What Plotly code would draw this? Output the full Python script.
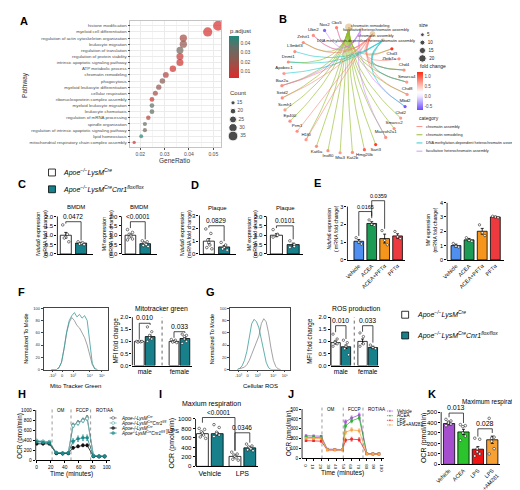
import math
import plotly.graph_objects as go

W, H = 520, 490
FONT = "Liberation Sans"
TEAL = "#17808a"
GTXT = "#4d4d4d"

# ---------------- A: GO enrichment ----------------
pathways = ["histone modification", "myeloid cell differentiation",
            "regulation of actin cytoskeleton organization", "leukocyte migration",
            "regulation of translation", "regulation of protein stability",
            "intrinsic apoptotic signaling pathway", "ATP metabolic process",
            "chromatin remodeling", "phagocytosis", "myeloid leukocyte differentiation",
            "cellular respiration", "ribonucleoprotein complex assembly",
            "myeloid leukocyte migration", "leukocyte chemotaxis",
            "regulation of mRNA processing", "spindle organization",
            "regulation of intrinsic apoptotic signaling pathway", "lipid homeostasis",
            "mitochondrial respiratory chain complex assembly"]
gene_ratio = [0.0520, 0.0477, 0.0377, 0.0377, 0.0363, 0.0363, 0.0363, 0.0334, 0.0305, 0.0291,
              0.0276, 0.0262, 0.0248, 0.0248, 0.0248, 0.0233, 0.0219, 0.0219, 0.0204, 0.0175]
p_adjust = [0.004, 0.005, 0.016, 0.020, 0.030, 0.008, 0.007, 0.006, 0.013, 0.024,
            0.021, 0.016, 0.008, 0.036, 0.035, 0.012, 0.034, 0.030, 0.046, 0.004]
gene_count = [36, 33, 26, 26, 25, 25, 25, 23, 21, 20, 19, 18, 17, 17, 17, 16, 15, 15, 14, 12]
count_legend = [15, 20, 25, 30, 35]

# ---------------- B: gene-concept network ----------------
go_terms = ["chromatin remodeling", "facultative heterochromatin assembly",
            "chromatin assembly", "DNA methylation-dependent heterochromatin assembly"]
term_colors = ["#7CAE00", "#C77CFF", "#F8766D", "#00BFC4"]
legend_order = [2, 0, 3, 1]
genes = ["Chd3", "Zbtb7a", "Chd4", "Smarca4", "Chd8", "Mbd2", "Chd2", "Smarcc2", "Macroh2a1",
         "Sart3", "Hmg20b", "Kat2b", "Mta3", "Ino80", "Kat6a", "H1f0", "Prm1", "Ep400", "Scmh1",
         "Setd2", "Baz2a", "Apobec1", "Dnmt1", "L3mbtl3", "Znhit1", "Ubn2", "Nox2", "Cbx5"]
fold_change = [1.15, 0.75, 0.75, 0.7, 0.7, -0.65, 0.7, 0.75, 0.75, 1.1, 0.95, 0.75, 0.7, 0.75,
               0.75, 0.7, 0.75, 0.75, 0.7, 0.75, 0.75, 0.7, 0.75, 0.75, 0.75, 0.75, -0.6, 0.8]
gene_terms = [[0, 2], [2], [0, 2, 3], [0, 2, 3], [0, 2], [1, 3], [0], [0], [0, 1], [0], [0], [0],
              [0], [0], [0], [0, 2], [2], [0], [0], [0, 2], [0, 1, 2], [3], [0, 3], [3], [0, 2],
              [1, 2], [1], [1, 2]]
size_legend = [5, 10, 15, 20]

# ---------------- C / D ----------------
grp_labels = ["<i>Apoe<sup>−/−</sup>LysM<sup>Cre</sup></i>",
              "<i>Apoe<sup>−/−</sup>LysM<sup>Cre</sup>Cnr1<sup>flox/flox</sup></i>"]
grp_fill = ["white", TEAL]
c1_mean, c1_sem = [1.0, 0.58], [0.15, 0.04]
c1_pts = [[1.55, 1.05, 0.9, 0.85, 0.65], [0.65, 0.6, 0.56, 0.53, 0.5]]
c2_mean, c2_sem = [1.0, 0.55], [0.05, 0.03]
c2_pts = [[1.3, 1.15, 1.05, 1.0, 0.95, 0.9, 0.8, 0.75], [0.7, 0.65, 0.6, 0.55, 0.5, 0.45, 0.4]]
d1_mean, d1_sem = [1.0, 0.55], [0.2, 0.1]
d1_pts = [[1.95, 1.6, 1.1, 0.9, 0.7, 0.5, 0.4], [0.9, 0.7, 0.5, 0.4, 0.3]]
d2_mean, d2_sem = [1.0, 0.5], [0.08, 0.08]
d2_pts = [[1.3, 1.05, 1.0, 0.9], [0.7, 0.5, 0.4, 0.35]]

# ---------------- E ----------------
e_groups = ["Vehicle", "ACEA", "ACEA+PFTα", "PFTα"]
e_colors = ["#4f8ff0", "#1c9b55", "#f5951b", "#ec3a3f"]
e1_mean, e1_sem = [1.05, 2.05, 1.2, 1.35], [0.1, 0.1, 0.25, 0.12]
e1_pts = [[1.25, 1.0, 0.9], [2.25, 2.0, 1.95], [1.65, 1.1, 0.85], [1.6, 1.3, 1.2]]
e2_mean, e2_sem = [1.0, 1.4, 2.0, 3.0], [0.1, 0.1, 0.2, 0.05]
e2_pts = [[1.15, 0.95, 0.9], [1.55, 1.35, 1.3], [2.45, 1.9, 1.7], [3.05, 3.0, 2.95]]

# ---------------- F / G ----------------
flow_ch = [12, 16, 20, 24, 28, 32, 36, 40, 44, 48, 52, 56, 60, 64, 68, 72, 76, 80, 84]
f_cnr1 = [0, 0, 0, 3, 12, 35, 62, 80, 88, 93, 86, 90, 84, 88, 80, 45, 10, 1, 0]
f_ctrl = [0, 0, 0, 3, 12, 34, 60, 77, 85, 80, 72, 68, 60, 52, 40, 25, 8, 1, 0]
g_cnr1 = [0, 2, 6, 15, 30, 55, 75, 82, 78, 68, 50, 30, 12, 3, 0, 0, 0, 0, 0]
g_ctrl = [0, 1, 2, 4, 8, 15, 25, 35, 42, 55, 75, 83, 78, 60, 35, 15, 5, 1, 0]
flow_ticks = [14, 29, 46, 72, 91]
flow_ticktext = ["-10³", "0", "10³", "10⁴", "10⁵"]
sex = ["male", "female"]
f_mean, f_sem = [1.0, 1.2, 1.0, 1.12], [0.02, 0.06, 0.03, 0.05]
f_pts = [[1.0, 0.98, 1.02, 0.97, 1.0], [1.6, 1.4, 1.25, 1.15, 1.1, 1.0],
         [1.08, 1.05, 1.0, 0.97, 0.95], [1.3, 1.25, 1.2, 1.1, 1.0, 0.92]]
g_mean, g_sem = [0.95, 0.78, 1.0, 0.75], [0.06, 0.07, 0.1, 0.05]
g_pts = [[1.3, 1.1, 1.0, 0.95, 0.9, 0.8], [1.05, 0.95, 0.8, 0.7, 0.45],
         [1.35, 1.2, 0.9, 0.8], [0.85, 0.75, 0.7]]

# ---------------- H / I ----------------
h_time = [0, 9, 18, 28, 37, 45, 52, 59, 66, 72, 81, 89, 97]
h_series = [
    [380, 370, 365, 150, 140, 145, 700, 750, 800, 850, 95, 85, 85],
    [395, 380, 370, 155, 148, 150, 690, 740, 790, 830, 100, 90, 88],
    [330, 330, 330, 140, 135, 140, 250, 280, 300, 300, 80, 75, 75],
    [370, 360, 350, 150, 140, 145, 380, 430, 450, 450, 85, 80, 80],
]
h_sem = [
    [15, 15, 15, 10, 10, 10, 40, 40, 40, 40, 10, 10, 10],
    [15, 15, 15, 10, 10, 10, 40, 40, 40, 40, 10, 10, 10],
    [15, 15, 15, 10, 10, 10, 25, 25, 25, 25, 10, 10, 10],
    [15, 15, 15, 10, 10, 10, 50, 55, 55, 55, 10, 10, 10],
]
h_names = ["<i>Apoe-/-LysM<sup>Cre</sup></i>", "<i>Apoe-/-LysM<sup>Cre</sup>Cnr1<sup>fl/fl</sup></i>",
           "<i>Apoe-/-LysM<sup>Cre</sup></i>", "<i>Apoe<sup>-/-</sup>LysM<sup>Cre</sup>Cnr1<sup>fl/fl</sup></i>"]
h_style = [("#555555", "white", "#333333"), ("#6fbcbc", "white", "#3a9c9c"),
           ("#111111", "#111111", "#111111"), ("#1b8c8c", "#1b8c8c", "#1b8c8c")]
inject_labels = ["OM", "FCCP", "ROT/AA"]
h_inject = [22, 49, 77]
i_groups = ["Vehicle", "LPS"]
i_mean, i_sem = [690, 690, 210, 390], [30, 25, 25, 20]
i_pts = [[800, 780, 730, 700, 660, 620, 590], [880, 820, 720, 690, 660, 630],
         [300, 260, 240, 210, 180, 150, 130], [470, 430, 410, 390, 370, 350, 330]]

# ---------------- J / K ----------------
j_time = [0, 10, 20, 28, 38, 48, 52, 60, 70, 80, 88, 96]
j_names = ["Vehicle", "ACEA", "LPS", "LPS+AM281"]
j_colors = ["#a855d8", "#29b62f", "#ee2a2a", "#f7a44a"]
j_series = [
    [230, 228, 225, 95, 92, 90, 370, 410, 440, 50, 48, 48],
    [215, 212, 210, 90, 88, 88, 330, 380, 410, 48, 46, 46],
    [180, 180, 175, 85, 85, 85, 185, 195, 190, 45, 44, 44],
    [205, 202, 200, 88, 88, 88, 265, 290, 280, 46, 45, 45],
]
j_sem = [8, 8, 8, 5, 5, 5, 20, 20, 20, 4, 4, 4]
j_inject = [21, 49, 75]
k_labels = ["Vehicle", "ACEA", "LPS", "LPS<br>+AM281"]
k_colors = ["#a64fce", "#2cc42c", "#ee1414", "#f7a033"]
k_mean, k_sem = [390, 310, 145, 235], [12, 25, 25, 35]
k_pts = [[430, 415, 405, 395, 385, 370], [380, 370, 360, 300, 270, 230],
         [250, 240, 150, 120, 100, 80], [440, 260, 250, 220, 150, 100]]

# ================= helpers =================
fig = go.Figure()
lay = {}
shapes = []
anns = []
nax = [0]


def axes(xpx, xr, ypx, yr, xkw=None, ykw=None):
    nax[0] += 1
    s = "" if nax[0] == 1 else str(nax[0])
    base = dict(showgrid=False, zeroline=False, showticklabels=False, ticks="", fixedrange=True,
                tickfont=dict(size=6, family=FONT, color="black"))
    xa = dict(base, domain=[xpx[0] / W, xpx[1] / W], range=list(xr), anchor="y" + s)
    ya = dict(base, domain=[1 - ypx[0] / H, 1 - ypx[1] / H], range=list(yr), anchor="x" + s)
    xa.update(xkw or {})
    ya.update(ykw or {})
    lay["xaxis" + s] = xa
    lay["yaxis" + s] = ya
    return "x" + s, "y" + s


def text(t, x, y, size=6, angle=0, xa="center", ya="middle", color="black"):
    anns.append(dict(text=t, x=x / W, y=1 - y / H, xref="paper", yref="paper", showarrow=False,
                     textangle=angle, xanchor=xa, yanchor=ya,
                     font=dict(size=size, color=color, family=FONT)))


def gp_axes(xl, xr, xrange, z, tp, tv, ytop, yticks, yfs=6, ytext=None, xkw=None):
    s = (z - tp) / tv
    xa = dict(showline=True, linecolor="black", linewidth=0.8)
    xa.update(xkw or {})
    ya = dict(tickvals=yticks, showticklabels=True, ticks="outside", ticklen=2, tickwidth=0.8,
              tickcolor="black", tickfont=dict(size=yfs, family=FONT, color="black"))
    if ytext:
        ya["ticktext"] = ytext
    xn, yn = axes((xl, xr), xrange, (z, z - ytop * s), (0, ytop), xa, ya)
    shapes.append(dict(type="line", xref=xn + " domain", x0=0, x1=0, yref=yn, y0=0, y1=yticks[-1],
                       line=dict(color="black", width=0.8)))
    return xn, yn


def bar_axes(c0, sc, xl, xr, z, tp, tv, ytop, yticks, **kw):
    return gp_axes(xl, xr, ((xl - c0) / sc, (xr - c0) / sc), z, tp, tv, ytop, yticks, **kw)


def bars(ax, pos, means, sems, colors, pts, width=0.72, dsize=2.6):
    xn, yn = ax
    fig.add_trace(go.Bar(x=pos, y=means, width=width, xaxis=xn, yaxis=yn,
                         marker=dict(color=colors, line=dict(color="black", width=0.8)),
                         error_y=dict(type="data", array=sems, color="black", thickness=0.8, width=1.5)))
    xs, ys = [], []
    for p, vals in zip(pos, pts):
        n = len(vals)
        for i, v in enumerate(vals):
            xs.append(p - (i - (n - 1) / 2) * width * 0.55 / max(n - 1, 1) * (1 if i % 2 else -1))
            ys.append(v)
    fig.add_trace(go.Scatter(x=xs, y=ys, mode="markers", xaxis=xn, yaxis=yn, cliponaxis=False,
                             marker=dict(size=dsize, color="white", line=dict(color="black", width=0.5))))


def bracket(ax, x0, x1, y, b0, b1, label, fs=6.5):
    xn, yn = ax
    fig.add_trace(go.Scatter(x=[x0, x0, x1, x1], y=[b0, y, y, b1], mode="lines", xaxis=xn, yaxis=yn,
                             line=dict(color="black", width=0.7), hoverinfo="skip"))
    anns.append(dict(text=label, x=(x0 + x1) / 2, y=y, xref=xn, yref=yn, yanchor="bottom",
                     showarrow=False, font=dict(size=fs, family=FONT, color="black")))


def legend_box(x, y, fill, label, size=7):
    shapes.append(dict(type="rect", xref="paper", yref="paper", x0=x / W, x1=(x + 7) / W,
                       y0=1 - (y + 3.5) / H, y1=1 - (y - 3.5) / H,
                       line=dict(color="black", width=0.8), fillcolor=fill))
    text(label, x + 13, y, size, xa="left")


# ================= A =================
padj_scale = [[0, "#dc2a2a"], [0.45, "#8a5a50"], [0.75, "#5f6e68"], [1, "#1e8a7a"]]
ridx = list(range(len(pathways)))
agrid = dict(showgrid=True, gridcolor="#ebebeb", gridwidth=0.6, showline=True, mirror=True,
             linecolor="#c4c4c4", linewidth=0.6, showticklabels=True, ticks="outside", ticklen=2,
             tickwidth=0.5, tickcolor=GTXT)
ax_a = axes((118, 210), (0.01595, 0.05324), (138, 10), (len(pathways) - 0.2, -0.8),
            dict(agrid, tickvals=[0.02, 0.03, 0.04, 0.05],
                 tickfont=dict(size=5, color=GTXT, family=FONT),
                 minor=dict(tickvals=[0.015, 0.025, 0.035, 0.045], showgrid=True,
                            gridcolor="#f4f4f4", gridwidth=0.4, ticks="")),
            dict(agrid, tickvals=ridx, ticktext=pathways, tickfont=dict(size=4.4, color=GTXT, family=FONT)))
fig.add_trace(go.Scatter(
    x=gene_ratio, y=ridx, mode="markers", xaxis=ax_a[0], yaxis=ax_a[1],
    marker=dict(size=[c * 0.28 for c in gene_count], color=p_adjust, colorscale=padj_scale,
                cmin=0.0026, cmax=0.0474, line=dict(width=0),
                colorbar=dict(x=218 / W, xanchor="left", y=1 - 47 / H, yanchor="middle", len=42,
                              lenmode="pixels", thickness=10, xpad=0, ypad=0, outlinewidth=0, ticks="",
                              tickvals=[0.01, 0.02, 0.03, 0.04],
                              tickfont=dict(size=5, color=GTXT, family=FONT)))))
text("Pathway", 11, 75, 6.5, angle=-90, color="#333333")
text("GeneRatio", 163, 151, 6.5, color="#333333")
text("p.adjust", 217, 20, 6, xa="left", color="#333333")
text("Count", 217, 83, 6, xa="left", color="#333333")

# ================= B =================
ax_b = axes((265, 405), (-1.1, 1.1), (150, 10), (-1.1, 1.1))
nt = len(go_terms)
N = nt + len(genes)
ang = [math.radians(4 + i * 360 / N) for i in range(N)]
nx = [math.sin(a) for a in ang]
ny = [math.cos(a) for a in ang]
for t in range(nt):
    xs, ys = [], []
    for g, terms in enumerate(gene_terms):
        if t not in terms:
            continue
        k = nt + g
        x0, y0, x2, y2 = nx[k], ny[k], nx[t], ny[t]
        cx, cy = 0.15 * (x0 + x2) / 2, 0.25 + 0.15 * (y0 + y2) / 2
        for j in range(21):
            u = j / 20
            xs.append((1 - u) ** 2 * x0 + 2 * (1 - u) * u * cx + u * u * x2)
            ys.append((1 - u) ** 2 * y0 + 2 * (1 - u) * u * cy + u * u * y2)
        xs.append(None)
        ys.append(None)
    fig.add_trace(go.Scatter(x=xs, y=ys, mode="lines", xaxis=ax_b[0], yaxis=ax_b[1], opacity=0.85,
                             line=dict(color=term_colors[t], width=0.6), hoverinfo="skip"))
term_size = [sum(1 for terms in gene_terms if t in terms) for t in range(nt)]
fc_scale = [[0, "#6b4dff"], [0.368, "#f0ebff"], [0.47, "#ffffff"], [0.75, "#ff9486"], [1, "#ff2a12"]]
gpos = []
for gx_, gy_ in zip(nx[nt:], ny[nt:]):
    if gy_ < -0.8:
        gpos.append("bottom center")
    elif gy_ > 0.6 and gx_ > 0.5:
        gpos.append("bottom center")
    elif gy_ > 0.4 and gx_ > 0.8:
        gpos.append("middle left")
    else:
        gpos.append("top center")
fig.add_trace(go.Scatter(
    x=nx[nt:], y=ny[nt:], mode="markers+text", text=genes, xaxis=ax_b[0], yaxis=ax_b[1],
    cliponaxis=False, textfont=dict(size=4.4, family=FONT, color="#222222"), textposition=gpos,
    marker=dict(size=3.2, color=fold_change, colorscale=fc_scale, cmin=-0.7, cmax=1.2, line=dict(width=0),
                colorbar=dict(x=409 / W, xanchor="left", y=1 - 81 / H, yanchor="middle", len=38,
                              lenmode="pixels", thickness=6, xpad=0, ypad=0, outlinewidth=0, ticks="",
                              tickvals=[-0.5, 0, 0.5, 1.0], ticktext=["-0.5", "0.0", "0.5", "1.0"],
                              tickfont=dict(size=4.5, color=GTXT, family=FONT)))))
fig.add_trace(go.Scatter(x=nx[:nt], y=ny[:nt], mode="markers", xaxis=ax_b[0], yaxis=ax_b[1],
                         cliponaxis=False,
                         marker=dict(size=[2.5 + 0.25 * s for s in term_size], color="#e2bf8c",
                                     line=dict(width=0))))
term_shift = [(21, 2), (15, 0), (3, -2), (-17, 0)]
for t in range(nt):
    anns.append(dict(text=go_terms[t], x=nx[t], y=ny[t], xref=ax_b[0], yref=ax_b[1], showarrow=False,
                     xshift=term_shift[t][0], yshift=term_shift[t][1],
                     font=dict(size=4, family=FONT, color="#222222")))
text("size", 409, 14, 5, xa="left", color="#222222")
text("fold change", 410, 56, 5, xa="left", color="#222222")
text("category", 409, 108, 5, xa="left", color="#222222")

# ================= C / D =================
legend_box(35, 163.5, grp_fill[0], grp_labels[0])
legend_box(35, 180.5, grp_fill[1], grp_labels[1])
half = ["0.0", "0.5", "1.0", "1.5", "2.0"]
ndufa_t = "<i>Ndufa6</i> expression<br>(mRNA fold change)"
mif_t = "<i>Mif</i> expression<br>(mRNA fold change)"

ax = bar_axes(52.5, 15.5, 44, 80, 246, 208, 2, 2.5, [0, 0.5, 1, 1.5, 2], ytext=half)
bars(ax, [0, 1], c1_mean, c1_sem, grp_fill, c1_pts)
bracket(ax, 0, 1, 1.72, 1.62, 0.72, "0.0472", 6.5)
text("BMDM", 63, 198, 6)
text(ndufa_t, 28, 226, 5.3, angle=-90)

ax = bar_axes(118, 15, 109, 145, 246, 208, 2, 2.5, [0, 0.5, 1, 1.5, 2], ytext=half)
bars(ax, [0, 1], c2_mean, c2_sem, grp_fill, c2_pts)
bracket(ax, 0, 1, 1.72, 1.38, 0.78, "<0.0001", 6.5)
text("BMDM", 127, 198, 6)
text(mif_t, 95, 226, 5.3, angle=-90)

text("<b>D</b>", 183, 176, 11)
ax = bar_axes(197.5, 15.5, 188, 225, 246, 207, 3, 3.6, [0, 1, 2, 3])
bars(ax, [0, 1], d1_mean, d1_sem, grp_fill, d1_pts)
bracket(ax, 0, 1, 2.2, 2.05, 1.0, "0.0829", 6.5)
text("Plaque", 206, 199, 6)
text(ndufa_t, 174, 226, 5.3, angle=-90)

ax = bar_axes(266, 17, 256, 293, 246, 208, 2, 2.3, [0, 0.5, 1, 1.5, 2], ytext=half)
bars(ax, [0, 1], d2_mean, d2_sem, grp_fill, d2_pts)
bracket(ax, 0, 1, 1.5, 1.38, 0.78, "0.0101", 6.5)
text("Plaque", 275, 199, 6)
text(mif_t, 241, 226, 5.3, angle=-90)

# ================= E =================
exk = dict(tickvals=[0, 1, 2, 3], ticktext=e_groups, showticklabels=True, tickangle=-45,
           tickfont=dict(size=5.5, family=FONT, color="black"))
ax = bar_axes(349.5, 13.1, 338, 396, 252, 198, 3, 3.8, [0, 1, 2, 3], yfs=5.5, xkw=exk)
bars(ax, [0, 1, 2, 3], e1_mean, e1_sem, e_colors, e1_pts, width=0.75, dsize=2.4)
bracket(ax, 0, 1, 2.72, 1.35, 2.35, "0.0165", 5.5)
bracket(ax, 1, 2, 3.33, 2.45, 1.75, "0.0359", 5.5)
text("<i>Ndufa6</i> expression<br>( mRNA fold change)", 323, 220, 5, angle=-90)

ax = bar_axes(448, 13.3, 439, 497, 252, 194, 4, 4, [0, 1, 2, 3, 4], yfs=5.5, xkw=exk)
bars(ax, [0, 1, 2, 3], e2_mean, e2_sem, e_colors, e2_pts, width=0.75, dsize=2.4)
text(mif_t, 423, 222, 5, angle=-90)


# ================= F / G =================
def flow_panel(xl, xr, ctrl, cnr1, xtitle):
    fax = axes((xl, xr), (0, 100), (363, 301), (0, 100),
               dict(showline=True, mirror=True, linecolor="#444444", linewidth=0.6, ticks="outside",
                    ticklen=2, tickwidth=0.5, tickvals=flow_ticks, ticktext=flow_ticktext,
                    showticklabels=True, tickfont=dict(size=4, family=FONT, color="#333333")),
               dict(showline=True, mirror=True, linecolor="#444444", linewidth=0.6, ticks="outside",
                    ticklen=2, tickwidth=0.5, tickvals=[0, 20, 40, 60, 80, 100], showticklabels=True,
                    tickfont=dict(size=4, family=FONT, color="#333333")))
    fig.add_trace(go.Scatter(x=flow_ch, y=ctrl, mode="lines", xaxis=fax[0], yaxis=fax[1],
                             line=dict(color="#8a8a8a", width=0.8)))
    fig.add_trace(go.Scatter(x=flow_ch, y=cnr1, mode="lines", xaxis=fax[0], yaxis=fax[1],
                             line=dict(color="#3a9c9c", width=0.8)))
    text(xtitle, (xl + xr) / 2, 380, 6)
    text("Normalized To Mode", xl - 18, 332, 5.5, angle=-90)


flow_panel(30, 95, f_ctrl, f_cnr1, "Mito Tracker Green")
flow_panel(219, 280, g_ctrl, g_cnr1, "Cellular ROS")

mfi_ticks = dict(yfs=5.8, ytext=half)
fx = dict(tickvals=[0.5, 3.7], ticktext=sex, showticklabels=True,
          tickfont=dict(size=6.5, family=FONT, color="black"))
ax = bar_axes(127, 11, 120, 180, 359, 310, 2, 2.05, [0, 0.5, 1, 1.5, 2], xkw=fx, **mfi_ticks)
bars(ax, [0, 1, 3.2, 4.2], f_mean, f_sem, grp_fill * 2, f_pts, width=0.9, dsize=2.4)
shapes.append(dict(type="line", xref=ax[0], yref=ax[1], x0=2.1, x1=2.1, y0=0, y1=2,
                   line=dict(color="black", width=0.6, dash="dot")))
bracket(ax, 0, 1, 1.75, 1.1, 1.68, "0.010", 6.8)
bracket(ax, 3.2, 4.2, 1.4, 1.15, 1.35, "0.033", 6.8)
text("Mitotracker green", 150, 302, 6.8)
text("MFI fold change", 103, 334, 6.3, angle=-90)

gx = dict(fx, tickvals=[0.5, 3.1])
ax = bar_axes(326, 10.5, 321, 370, 359, 310, 2, 2.05, [0, 0.5, 1, 1.5, 2], xkw=gx, **mfi_ticks)
bars(ax, [0, 1, 2.6, 3.6], g_mean, g_sem, grp_fill * 2, g_pts, width=0.9, dsize=2.4)
shapes.append(dict(type="line", xref=ax[0], yref=ax[1], x0=1.8, x1=1.8, y0=0, y1=2,
                   line=dict(color="black", width=0.6, dash="dot")))
bracket(ax, 0, 1, 1.65, 1.38, 1.1, "0.010", 6.8)
bracket(ax, 2.6, 3.6, 1.65, 1.4, 0.95, "0.033", 6.8)
text("ROS production", 347, 302, 6.8)
text("MFI fold change", 300, 334, 6.3, angle=-90)

legend_box(393, 307.5, grp_fill[0], grp_labels[0])
legend_box(393, 328.5, grp_fill[1], grp_labels[1])

# ================= H =================
hx = dict(tickvals=[0, 20, 40, 60, 80, 100], showticklabels=True, ticks="outside", ticklen=2,
          tickwidth=0.8, tickcolor="black", tickfont=dict(size=4.8, family=FONT, color="black"))
ax_h = gp_axes(22, 97, (-1.4, 104.2), 455, 404, 1000, 1060, [0, 200, 400, 600, 800, 1000],
               yfs=4.8, xkw=hx)
for t, lab in zip(h_inject, inject_labels):
    shapes.append(dict(type="line", xref=ax_h[0], yref=ax_h[1], x0=t, x1=t, y0=0, y1=1050,
                       line=dict(color="#555555", width=0.6, dash="dot")))
    anns.append(dict(text=lab, x=t, y=1000, xref=ax_h[0], yref=ax_h[1], xanchor="left", xshift=3,
                     showarrow=False, font=dict(size=4.6, family=FONT, color="black")))
for vals, sem, (lc, fc, mc) in zip(h_series, h_sem, h_style):
    fig.add_trace(go.Scatter(x=h_time, y=vals, mode="lines+markers", xaxis=ax_h[0], yaxis=ax_h[1],
                             line=dict(color=lc, width=0.8),
                             error_y=dict(type="data", array=sem, color=lc, thickness=0.6, width=1),
                             marker=dict(size=3, color=fc, line=dict(color=mc, width=0.6))))
text("OCR (pmol/min)", 6, 430, 6.3, angle=-90)
text("Time (minutes)", 58, 469, 6.5)

# ================= I =================
ix = dict(tickvals=[0.5, 2.7], ticktext=i_groups, showticklabels=True,
          tickfont=dict(size=7, family=FONT, color="black"))
ax = bar_axes(191, 15, 184, 247, 461, 413, 1000, 1150, [0, 200, 400, 600, 800, 1000], yfs=6, xkw=ix)
bars(ax, [0, 1, 2.2, 3.2], i_mean, i_sem, grp_fill * 2, i_pts, width=0.8, dsize=2.6)
bracket(ax, 0, 2.2, 1030, 920, 330, "<0.0001", 6.3)
bracket(ax, 2.2, 3.2, 708, 330, 500, "0.0346", 6.5)
text("Maxium respiration", 200, 397.5, 7)
text("OCR (pmol/min)", 160, 437, 7, angle=-90)

# ================= J =================
jx = dict(hx, tickvals=list(range(0, 101, 10)), tickfont=dict(size=4.3, family=FONT, color="black"))
ax_j = gp_axes(292, 375, (-5.2, 102.6), 453, 403, 500, 520, [0, 100, 200, 300, 400, 500],
               yfs=4.6, xkw=jx)
for t, lab in zip(j_inject, inject_labels):
    shapes.append(dict(type="line", xref=ax_j[0], yref=ax_j[1], x0=t, x1=t, y0=0, y1=515,
                       line=dict(color="#555555", width=0.6, dash="dot")))
    anns.append(dict(text=lab, x=t, y=500, xref=ax_j[0], yref=ax_j[1], xanchor="left", xshift=3,
                     showarrow=False, font=dict(size=4.6, family=FONT, color="black")))
for vals, col in zip(j_series, j_colors):
    fig.add_trace(go.Scatter(x=j_time, y=vals, mode="lines+markers", xaxis=ax_j[0], yaxis=ax_j[1],
                             line=dict(color=col, width=0.8),
                             error_y=dict(type="data", array=j_sem, color=col, thickness=0.6, width=1),
                             marker=dict(size=2.6, symbol="square", color=col)))
text("OCR (pmol/min)", 279, 428, 6.3, angle=-90)
text("Time (minutes)", 333, 468, 6.5)

# ================= K =================
kx = dict(tickvals=[0, 1, 2, 3], ticktext=k_labels, showticklabels=True, tickangle=-45,
          tickfont=dict(size=5.5, family=FONT, color="black"))
ax = bar_axes(441, 14.6, 433, 493, 459, 406, 500, 580, [0, 100, 200, 300, 400, 500], yfs=6, xkw=kx)
bars(ax, [0, 1, 2, 3], k_mean, k_sem, k_colors, k_pts, width=0.78, dsize=2.6)
bracket(ax, 0, 1, 490, 450, 395, "0.013", 7)
bracket(ax, 2, 3, 340, 265, 300, "0.028", 7)
text("Maximum respiration", 485, 396, 6.4)
text("OCR (pmol/min)", 415, 432, 7, angle=-90)

# ================= legend glyphs (pixel overlay axis) =================
lx, ly = axes((0, W), (0, W), (H, 0), (H, 0))
cy = [93 + 8.4 * i for i in range(len(count_legend))]
fig.add_trace(go.Scatter(x=[222] * len(count_legend), y=cy, mode="markers+text", xaxis=lx, yaxis=ly,
                         text=[str(c) for c in count_legend], textposition="middle right",
                         textfont=dict(size=5, family=FONT, color=GTXT),
                         marker=dict(size=[c * 0.28 for c in count_legend], color="black")))
sy = [24 + 8 * i for i in range(len(size_legend))]
fig.add_trace(go.Scatter(x=[414] * len(size_legend), y=sy, mode="markers+text", xaxis=lx, yaxis=ly,
                         text=[" " + str(s) for s in size_legend], textposition="middle right",
                         textfont=dict(size=4.5, family=FONT, color="#222222"),
                         marker=dict(size=[2.5 + 0.25 * s for s in size_legend], color="black")))
for r, t in enumerate(legend_order):
    y = 117 + 8.3 * r
    fig.add_trace(go.Scatter(x=[408, 414], y=[y, y], mode="lines", xaxis=lx, yaxis=ly,
                             line=dict(color=term_colors[t], width=0.8)))
    text(go_terms[t], 415.5, y, 3.8, xa="left", color="#222222")
for r, (nm, (lc, fc, mc)) in enumerate(zip(h_names, h_style)):
    y = 412 + 5.1 * r
    fig.add_trace(go.Scatter(x=[97, 100.5, 104], y=[y] * 3, mode="lines+markers", xaxis=lx, yaxis=ly,
                             line=dict(color=lc, width=0.8),
                             marker=dict(size=[0, 3, 0], color=fc, line=dict(color=mc, width=0.6))))
    text(nm, 106, y, 4.5, xa="left")
text("]LPS", 152, 425, 6, xa="left")
for r, (nm, col) in enumerate(zip(j_names, j_colors)):
    y = 405 + 4.7 * r
    fig.add_trace(go.Scatter(x=[378, 381, 384], y=[y] * 3, mode="lines+markers", xaxis=lx, yaxis=ly,
                             line=dict(color=col, width=0.8),
                             marker=dict(size=[0, 2.6, 0], symbol="square", color=col)))
    text(nm, 386, y, 4.6, xa="left")

# panel letters
for lab, x, y in [("A", 10, 10), ("B", 273, 8), ("C", 8, 175), ("E", 308, 174), ("F", 8, 284),
                  ("G", 199, 284), ("H", 8, 388), ("I", 149, 388), ("J", 281, 388), ("K", 424, 388)]:
    text(f"<b>{lab}</b>", x, y, 11)

fig.update_layout(**lay)
fig.update_layout(width=W, height=H, margin=dict(l=0, r=0, t=0, b=0), showlegend=False,
                  paper_bgcolor="white", plot_bgcolor="rgba(0,0,0,0)",
                  font=dict(family=FONT, size=6, color="black"),
                  shapes=shapes, annotations=anns)
fig.write_html("out.html")
